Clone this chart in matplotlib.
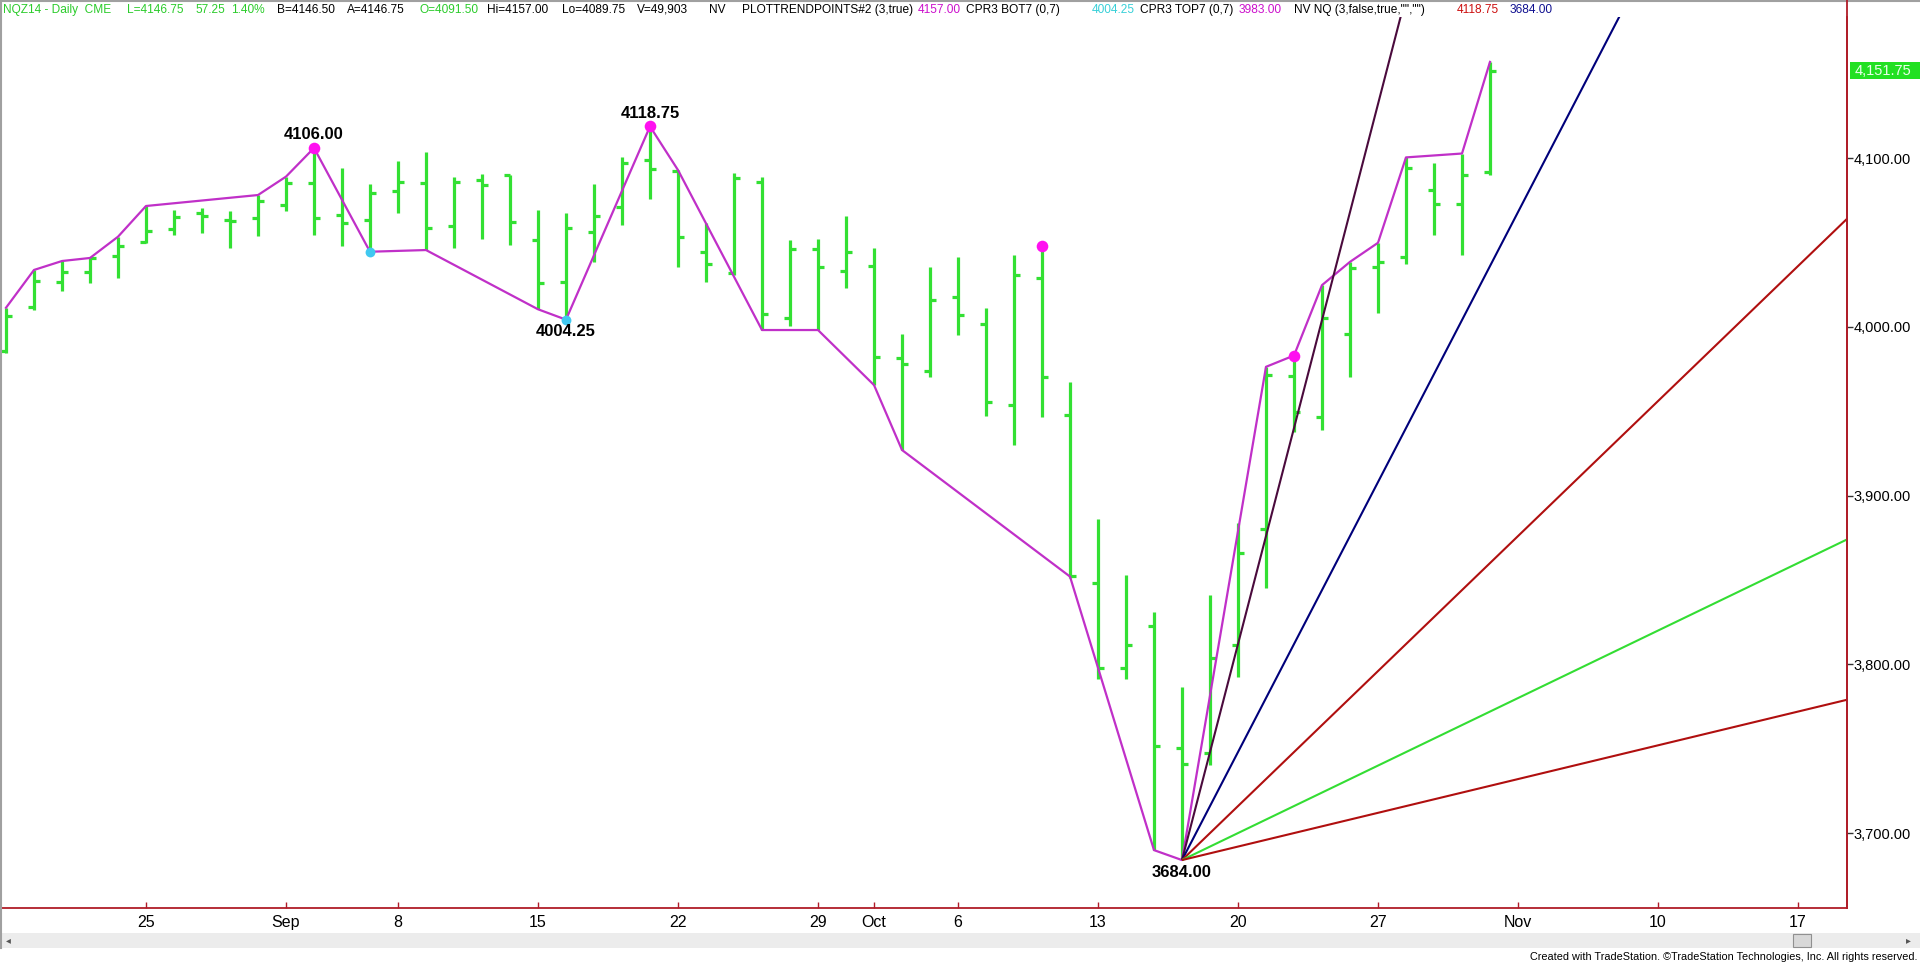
import matplotlib
matplotlib.use("Agg")
import matplotlib.pyplot as plt
from matplotlib import font_manager
from matplotlib.patches import Rectangle
from matplotlib.lines import Line2D
import pandas as pd
import numpy as np

# ---------------- data ----------------
first_day = "2014-08-18"
last_day = "2014-11-21"
holidays = ["2014-09-01"]

opens = [3985.5, 4011.5, 4026.7, 4032.3, 4042.0, 4050.1, 4057.8, 4067.2, 4063.3, 4064.7,
         4072.2, 4085.0, 4066.2, 4063.3, 4080.7, 4085.0, 4059.7, 4087.0, 4090.0, 4051.4,
         4026.7, 4056.0, 4071.2, 4098.8, 4092.3, 4044.5, 4031.7, 4086.0, 4005.0, 4045.9,
         4033.3, 4036.2, 3981.3, 3974.0, 4017.5, 4001.7, 3953.7, 4028.7, 3947.7, 3848.0,
         3797.6, 3823.0, 3750.5, 3747.2, 3811.2, 3880.0, 3970.8, 3946.7, 3995.7, 4035.6,
         4041.1, 4081.0, 4072.7, 4091.5]
highs = [4011.3, 4033.7, 4039.0, 4040.8, 4053.4, 4071.6, 4069.2, 4070.2, 4068.6, 4078.1,
         4089.0, 4106.0, 4093.9, 4084.4, 4098.3, 4103.8, 4089.0, 4090.5, 4090.0, 4069.2,
         4067.2, 4084.6, 4100.4, 4118.75, 4092.9, 4061.7, 4091.0, 4089.0, 4051.4, 4051.8,
         4065.7, 4046.5, 3995.7, 4035.2, 4041.6, 4011.0, 4042.5, 4047.5, 3967.4, 3885.9,
         3852.9, 3831.1, 3786.3, 3841.0, 3883.5, 3976.3, 3983.0, 4024.7, 4038.5, 4049.8,
         4100.4, 4096.8, 4102.7, 4157.0]
lows = [3984.5, 4010.0, 4021.4, 4025.8, 4029.1, 4049.5, 4054.4, 4055.8, 4046.5, 4054.0,
        4068.6, 4054.4, 4048.1, 4044.5, 4067.2, 4045.5, 4046.5, 4051.8, 4048.5, 4010.4,
        4004.25, 4038.6, 4060.3, 4075.5, 4035.2, 4026.7, 4030.7, 3998.1, 4000.5, 3998.1,
        4023.2, 3965.5, 3927.0, 3970.0, 3995.1, 3947.1, 3929.9, 3946.4, 3850.9, 3791.6,
        3791.6, 3689.9, 3684.0, 3740.3, 3792.2, 3845.0, 3937.8, 3938.8, 3970.0, 4008.3,
        4037.2, 4054.3, 4042.5, 4089.75]
closes = [4006.4, 4027.1, 4032.3, 4040.5, 4048.1, 4056.8, 4065.3, 4065.7, 4062.9, 4074.7,
          4085.4, 4064.3, 4061.7, 4079.1, 4086.0, 4058.8, 4086.0, 4084.0, 4061.9, 4026.0,
          4058.5, 4065.7, 4097.3, 4093.3, 4053.4, 4037.2, 4088.0, 4007.4, 4045.9, 4035.2,
          4044.5, 3982.3, 3977.8, 4015.7, 4007.0, 3955.6, 4030.7, 3970.0, 3852.5, 3798.1,
          3811.2, 3751.5, 3740.7, 3803.5, 3865.7, 3971.4, 3949.7, 4005.0, 4034.6, 4038.3,
          4093.9, 4072.7, 4089.9, 4151.75]

# swing line (PLOTTRENDPOINTS) vertices: bar date and price
swing_dates = ["2014-08-18", "2014-08-19", "2014-08-20", "2014-08-21", "2014-08-22", "2014-08-25",
               "2014-08-29", "2014-09-02", "2014-09-03", "2014-09-05", "2014-09-09", "2014-09-15",
               "2014-09-16", "2014-09-19", "2014-09-22", "2014-09-25", "2014-09-29", "2014-10-01",
               "2014-10-02", "2014-10-10", "2014-10-15", "2014-10-16", "2014-10-21", "2014-10-22",
               "2014-10-23", "2014-10-24", "2014-10-27", "2014-10-28", "2014-10-30", "2014-10-31"]
swing_vals = [4011.3, 4033.7, 4039.0, 4040.8, 4053.4, 4071.6,
              4078.1, 4089.0, 4106.0, 4044.5, 4045.5, 4010.4,
              4004.25, 4118.75, 4092.9, 3998.1, 3998.1, 3965.5,
              3927.0, 3852.0, 3689.9, 3684.0, 3976.3, 3983.0,
              4024.7, 4038.5, 4049.8, 4100.4, 4102.7, 4157.0]

top_dot_dates = ["2014-09-03", "2014-09-19", "2014-10-09", "2014-10-22"]
top_dot_vals = [4106.0, 4118.75, 4047.9, 3983.0]
bot_dot_dates = ["2014-09-05", "2014-09-16"]
bot_dot_vals = [4044.5, 4004.25]

label_dates = ["2014-09-03", "2014-09-19", "2014-09-16", "2014-10-16"]
label_vals = [4106.00, 4118.75, 4004.25, 3684.00]
label_above = [True, True, False, False]

# Gann fan from the 3684.00 low (points per bar)
fan_origin_date = "2014-10-16"
fan_origin_val = 3684.0
fan_slopes = [64, 32, 16, 8, 4]
fan_colors = ["#4a0a3c", "#00007a", "#b00f0f", "#33dd33", "#b00f0f"]

tick_dates = ["2014-08-25", "2014-09-02", "2014-09-08", "2014-09-15", "2014-09-22", "2014-09-29",
              "2014-10-01", "2014-10-06", "2014-10-13", "2014-10-20", "2014-10-27", "2014-11-03",
              "2014-11-10", "2014-11-17"]
tick_labels = ["25", "Sep", "8", "15", "22", "29", "Oct", "6", "13", "20", "27", "Nov", "10", "17"]

price_ticks = [3700, 3800, 3900, 4000, 4100]
last_price = 4151.75

# ---------------- fonts ----------------
def have(name):
    try:
        font_manager.findfont(font_manager.FontProperties(family=name), fallback_to_default=False)
        return True
    except Exception:
        return False

HAS_NARROW = have("Liberation Sans Narrow")
NARROW = "Liberation Sans Narrow" if HAS_NARROW else "Liberation Sans"
SANS = "Liberation Sans" if have("Liberation Sans") else "DejaVu Sans"
hdr_size = 10 if HAS_NARROW else 8.6
foot_size = 10 if HAS_NARROW else 7.8
date_size = 12.5 if HAS_NARROW else 11.5

# ---------------- build index ----------------
days = pd.bdate_range(first_day, last_day)
days = days[~days.isin(pd.to_datetime(holidays))]
pos = {d.strftime("%Y-%m-%d"): i for i, d in enumerate(days)}
n = len(opens)
xs = np.arange(n)

W, H = 1920, 964
fig = plt.figure(figsize=(W / 100, H / 100), dpi=100)
fig.patch.set_facecolor("white")

ax_left, ax_right, ax_top, ax_bot = 0, 1847, 17, 908
ax = fig.add_axes([ax_left / W, 1 - ax_bot / H, (ax_right - ax_left) / W, (ax_bot - ax_top) / H])
ax.set_facecolor("white")

x0 = pos["2014-08-25"]
px_per_bar = 28.0
xmin = x0 + (0 - 146) / px_per_bar
xmax = x0 + (ax_right - 146) / px_per_bar
ax.set_xlim(xmin, xmax)
ax.set_ylim(3655.6, 4183.6)

GREEN = "#33e033"
lw = 2.3
tk = 0.21
ax.vlines(xs, lows, highs, color=GREEN, lw=lw, zorder=2)
ax.hlines(opens, xs - tk, xs, color=GREEN, lw=lw, zorder=2)
ax.hlines(closes, xs, xs + tk, color=GREEN, lw=lw, zorder=2)

# swing line
sx = [pos[d] for d in swing_dates]
ax.plot(sx, swing_vals, color="#c030c8", lw=1.6, zorder=3)

# fan lines
ox = pos[fan_origin_date]
fx = np.array([ox, xmax + 1])
for s, c in zip(fan_slopes, fan_colors):
    ax.plot(fx, fan_origin_val + s * (fx - ox), color=c, lw=1.5, zorder=4, solid_capstyle="butt")

# dots
ax.scatter([pos[d] for d in top_dot_dates], top_dot_vals, s=70, color="#ff10f0", zorder=5, linewidths=0)
ax.scatter([pos[d] for d in bot_dot_dates], bot_dot_vals, s=50, color="#40c8f0", zorder=5, linewidths=0)

# pivot labels
for d, v, up in zip(label_dates, label_vals, label_above):
    ax.annotate(f"{v:.2f}", (pos[d], v), xytext=(0, 13 if up else -12), textcoords="offset pixels",
                ha="center", va="center", fontsize=12, fontweight="bold", family=SANS, color="black", zorder=6)

# axes styling
AXRED = "#b01c28"
for sp in ["top", "left"]:
    ax.spines[sp].set_visible(False)
ax.spines["bottom"].set_color(AXRED)
ax.spines["right"].set_color(AXRED)
ax.spines["bottom"].set_linewidth(1.3)
ax.spines["right"].set_linewidth(1.3)

ax.yaxis.tick_right()
ax.set_yticks(price_ticks)
ax.set_yticklabels([f"{p:,.2f}" for p in price_ticks], family=SANS, fontsize=10.5)
ax.tick_params(axis="y", direction="out", length=4, width=1, color="#333333", pad=1, labelcolor="black")

ax.set_xticks([pos[d] for d in tick_dates])
ax.set_xticklabels(tick_labels, family=NARROW, fontsize=date_size)
ax.tick_params(axis="x", direction="in", length=4, width=1, color=AXRED, pad=5, labelcolor="black")

# last price box
ypix = ax.transData.transform((0, last_price))[1]
bh = 17
fig.patches.append(Rectangle(((ax_right + 3) / W, (ypix - bh / 2) / H), (W - ax_right - 3) / W, bh / H,
                             transform=fig.transFigure, facecolor="#22e022", edgecolor="none", zorder=5))
fig.text((ax_right + 8) / W, ypix / H, f"{last_price:,.2f}", ha="left", va="center", color="#eaffea",
         fontsize=10.5, family=SANS, zorder=6)

# borders
fig.add_artist(Line2D([0, 1], [1 - 0.5 / H, 1 - 0.5 / H], transform=fig.transFigure, color="#a0a0a0", lw=1.5))
fig.add_artist(Line2D([0.5 / W, 0.5 / W], [1 - 948 / H, 1], transform=fig.transFigure, color="#a0a0a0", lw=1.5))
fig.add_artist(Line2D([ax_right / W, ax_right / W], [1 - ax_bot / H, 1], transform=fig.transFigure,
                      color=AXRED, lw=1.3))

# scrollbar
fig.patches.append(Rectangle((0, 1 - 948 / H), 1, 15 / H, transform=fig.transFigure,
                             facecolor="#ececec", edgecolor="none", zorder=1))
fig.patches.append(Rectangle((1793 / W, 1 - 947 / H), 18 / W, 13 / H, transform=fig.transFigure,
                             facecolor="#d8d8d8", edgecolor="#909090", lw=0.8, zorder=2))
fig.text(6 / W, 1 - 940 / H, "◂", fontsize=7, color="#555555", va="center", family="DejaVu Sans")
fig.text(1906 / W, 1 - 940 / H, "▸", fontsize=7, color="#555555", va="center", family="DejaVu Sans")

fig.text(1918 / W, 1 - 957 / H, "Created with TradeStation. ©TradeStation Technologies, Inc. All rights reserved.",
         ha="right", va="center", fontsize=foot_size, family=NARROW, color="black")

# header
HG = "#2ccc2c"
segs = [
    ("NQZ14 - Daily  CME", HG, 3), ("L=4146.75", HG, 127), ("57.25", HG, 196), ("1.40%", HG, 231),
    ("B=4146.50", "black", 277), ("A=4146.75", "black", 347), ("O=4091.50", HG, 419),
    ("Hi=4157.00", "black", 487), ("Lo=4089.75", "black", 562), ("V=49,903", "black", 637),
    ("NV", "black", 709), ("PLOTTRENDPOINTS#2 (3,true)", "black", 742), ("4157.00", "#cc10cc", 909),
    ("CPR3 BOT7 (0,7)", "black", 966), ("4004.25", "#38d0d8", 1092), ("CPR3 TOP7 (0,7)", "black", 1138),
    ("3983.00", "#cc10cc", 1239), ('NV NQ (3,false,true,"","")', "black", 1294),
    ("4118.75", "#cc1010", 1457), ("3684.00", "#101090", 1510),
]
renderer = fig.canvas.get_renderer()
prev_end = -1e9
for t, c, x in segs:
    xx = max(x, prev_end + 5)
    txt = fig.text(xx / W, 1 - 10 / H, t, color=c, ha="left", va="center", fontsize=hdr_size, family=NARROW)
    bb = txt.get_window_extent(renderer=renderer)
    prev_end = bb.x1

fig.savefig("out.png", dpi=100, facecolor="white")
